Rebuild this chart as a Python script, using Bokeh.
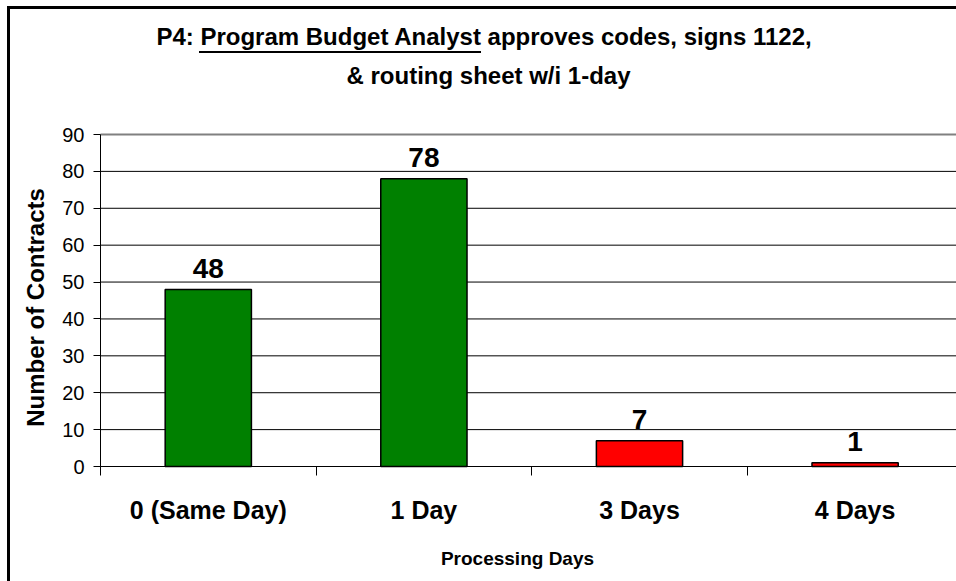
import math
from bokeh.plotting import figure
from bokeh.models import Range1d, FixedTicker, Label
from bokeh.core.properties import value
from bokeh.embed import file_html
from bokeh.resources import INLINE

# ---- data ----
categories = ["0 (Same Day)", "1 Day", "3 Days", "4 Days"]
processing_days = [0, 1, 3, 4]
contracts = [48, 78, 7, 1]
target_days = 1
y_ticks = [0, 10, 20, 30, 40, 50, 60, 70, 80, 90]
title_line1 = "P4: Program Budget Analyst approves codes, signs 1122,"
title_line2 = "& routing sheet w/i 1-day"
y_title = "Number of Contracts"
x_title = "Processing Days"

# ---- layout constants (page pixels) ----
W, H = 956, 581
AXIS_X, PLOT_TOP, AXIS_Y = 100, 134, 466   # y axis at x=100, 90 at y=134, 0 at y=466
CAT_PX = 215.6                              # width of one category
FONT = "Liberation Sans"
GREEN = "#008000"
RED = "#FF0000"
BASE_SHIFT = 10.5 / 24                      # rendered baseline shift per px of font size

n = len(categories)
xs = [i + 0.5 for i in range(n)]
colors = [GREEN if d <= target_days else RED for d in processing_days]
label_pad = 5.7  # data units above the bar top
y_max = y_ticks[-1]
ppu = (AXIS_Y - PLOT_TOP) / y_max           # pixels per contract

# the frame covers the whole canvas; axes are pinned at 0
x_start, x_end = -AXIS_X / CAT_PX, (W - AXIS_X) / CAT_PX
y_start, y_end = -(H - AXIS_Y) / ppu, AXIS_Y / ppu

p = figure(width=W, height=H, output_backend="svg", toolbar_location=None,
           x_range=Range1d(x_start, x_end), y_range=Range1d(y_start, y_end),
           min_border_left=0, min_border_right=0, min_border_top=0, min_border_bottom=0)
p.background_fill_color = None
p.border_fill_color = None
p.outline_line_color = None
p.xgrid.visible = False
p.ygrid.visible = False

# chart border (left & top) and title underline, painted behind the transparent canvas
p.styles = {
    "background-color": "white",
    "background-image": "linear-gradient(#000,#000), linear-gradient(#000,#000), linear-gradient(#000,#000)",
    "background-size": "3px 100%, 100% 3px, 282px 2px",
    "background-position": "7px 6px, 7px 6px, 199px 51px",
    "background-repeat": "no-repeat",
}

# horizontal grid lines (from the y ticks), the top one grey
grid_ticks = y_ticks[:-1]
p.segment(x0=[0] * len(grid_ticks), x1=[x_end] * len(grid_ticks),
          y0=grid_ticks, y1=grid_ticks, line_color="black", line_width=1)
p.segment(x0=[0], x1=[x_end], y0=[y_max], y1=[y_max], line_color="#808080", line_width=2)

# bars
p.vbar(x=xs, top=contracts, width=0.4, fill_color=colors,
       line_color="black", line_width=1.5)

# value labels
p.text(x=xs, y=[v + label_pad for v in contracts], text=[str(v) for v in contracts],
       text_align="center", text_baseline="alphabetic",
       text_font=value(FONT), text_font_style="bold",
       text_font_size="28px", text_color="black")

# y axis
p.yaxis.fixed_location = 0
p.yaxis.bounds = (0, y_max)
p.yaxis.ticker = FixedTicker(ticks=y_ticks)
p.yaxis.major_tick_out = 7
p.yaxis.major_tick_in = 0
p.yaxis.minor_tick_out = 0
p.yaxis.minor_tick_in = 0
p.yaxis.axis_line_color = "black"
p.yaxis.major_tick_line_color = "black"
p.yaxis.major_label_text_font = FONT
p.yaxis.major_label_text_font_size = "20px"
p.yaxis.major_label_text_color = "black"
p.yaxis.major_label_standoff = 9

# x axis
p.xaxis.fixed_location = 0
p.xaxis.bounds = (0, x_end)
p.xaxis.ticker = FixedTicker(ticks=xs, minor_ticks=list(range(n)))
p.xaxis.major_label_overrides = {x: c for x, c in zip(xs, categories)}
p.xaxis.major_tick_out = 0
p.xaxis.major_tick_in = 0
p.xaxis.minor_tick_out = 9
p.xaxis.minor_tick_in = 0
p.xaxis.minor_tick_line_color = "black"
p.xaxis.axis_line_color = "black"
p.xaxis.major_label_text_font = FONT
p.xaxis.major_label_text_font_size = "25px"
p.xaxis.major_label_text_font_style = "bold"
p.xaxis.major_label_text_color = "black"
p.xaxis.major_label_standoff = 20

# texts placed in screen units (frame = canvas; y measured up from the bottom)
def fy(page_y):
    return H - page_y

def add_text(text, x, baseline_y, size, angle=0.0, x_is_baseline=False):
    shift = BASE_SHIFT * size
    if x_is_baseline:   # rotated text: baseline runs vertically
        lx, ly = x - shift, fy(baseline_y)
    else:
        lx, ly = x, fy(baseline_y - shift)
    p.add_layout(Label(x=lx, y=ly, x_units="screen", y_units="screen", angle=angle,
                       text=text, text_align="center", text_baseline="alphabetic",
                       text_font=FONT, text_font_style="bold", text_font_size=f"{size}px",
                       text_color="black"))

add_text(title_line1, 484, 46, 24)
add_text(title_line2, 488, 85, 24)
add_text(y_title, 45, 307, 24, angle=math.pi / 2, x_is_baseline=True)
add_text(x_title, 517, 566, 19)

open("out.html", "w").write(file_html(p, INLINE))
